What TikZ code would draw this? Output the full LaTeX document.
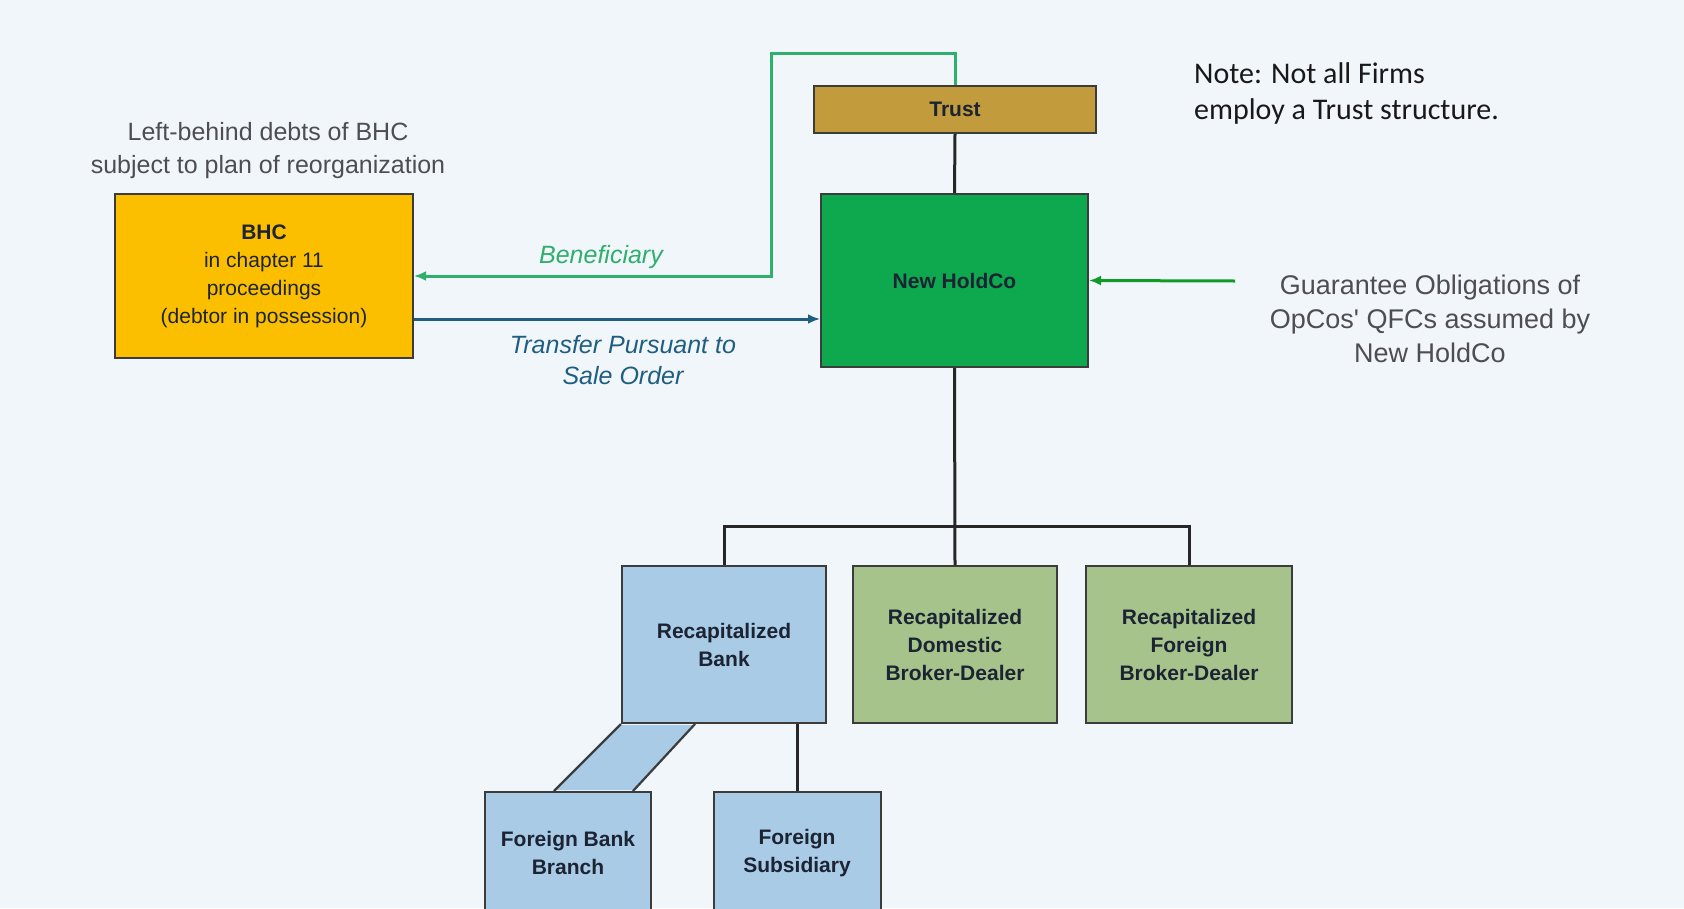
\documentclass[tikz,border=0pt]{standalone}
\usepackage{fontspec}
\setmainfont{Liberation Sans}
\newfontfamily\notefont{Carlito}
\usetikzlibrary{arrows.meta}
\definecolor{bgc}{HTML}{F0F6FA}
\definecolor{bhcfill}{HTML}{FBBF00}
\definecolor{trustfill}{HTML}{C29B3C}
\definecolor{holdfill}{HTML}{0EA84E}
\definecolor{bankfill}{HTML}{A9CBE6}
\definecolor{bdfill}{HTML}{A6C38B}
\definecolor{edgec}{HTML}{3C3C3C}
\definecolor{boxtext}{HTML}{1C2433}
\definecolor{benef}{HTML}{2FAE6C}
\definecolor{transf}{HTML}{1F5E80}
\definecolor{guarc}{HTML}{109A28}
\definecolor{graytext}{HTML}{4E4E52}
\tikzset{
  entity/.style={draw=edgec, line width=2pt, inner sep=0pt, align=center,
    text=boxtext, font=\bfseries\fontsize{21}{28}\selectfont},
  link/.style={draw=black!85, line width=3pt},
  tip/.style={-{Latex[length=12pt,width=10pt]}},
}
\begin{document}
\begin{tikzpicture}[x=1pt,y=-1pt]
\useasboundingbox (0,0) rectangle (1684,908);
\clip (0,0) rectangle (1684,908);
\fill[bgc] (0,0) rectangle (1684,908);

% nodes
\node[entity, fill=bhcfill, minimum width=298pt, minimum height=164pt] (bhc) at (264,276)
  {BHC\\ \mdseries in chapter 11\\ \mdseries proceedings\\ \mdseries (debtor in possession)};
\node[entity, fill=trustfill, minimum width=282pt, minimum height=47pt] (trust) at (955,109.5) {Trust};
\node[entity, fill=holdfill, minimum width=267pt, minimum height=173pt] (holdco) at (954.5,280.5) {New HoldCo};
\node[entity, fill=bankfill, minimum width=204pt, minimum height=157pt] (bank) at (724,644.5) {Recapitalized\\Bank};
\node[entity, fill=bdfill, minimum width=204pt, minimum height=157pt] (dom) at (955,644.5) {Recapitalized\\Domestic\\Broker-Dealer};
\node[entity, fill=bdfill, minimum width=206pt, minimum height=157pt] (fbd) at (1189,644.5) {Recapitalized\\Foreign\\Broker-Dealer};
\node[entity, fill=bankfill, minimum width=166pt, minimum height=122pt] (branch) at (568,853) {Foreign Bank\\Branch};
\node[entity, fill=bankfill, minimum width=167pt, minimum height=122pt] (sub) at (797,853) {Foreign\\Subsidiary};

% texts
\node[align=center, text=graytext, font=\fontsize{25}{33}\selectfont] (left) at (268,151)
  {Left-behind debts of BHC\\subject to plan of reorganization};
\node[text=benef, font=\itshape\fontsize{25}{31}\selectfont] (benlab) at (601,257) {Beneficiary};
\node[align=center, text=transf, font=\itshape\fontsize{25}{31}\selectfont] (trlab) at (623,360)
  {Transfer Pursuant to\\Sale Order};
\node[anchor=north west, align=left, text=black!90, inner sep=0pt, font=\notefont\fontsize{30}{36}\selectfont] (note) at (1194,62)
  {Note: Not all Firms\\employ a Trust structure.};
\node[align=center, text=graytext, font=\fontsize{27}{34}\selectfont] (guar) at (1430,319)
  {Guarantee Obligations of\\OpCos\textquotesingle{} QFCs assumed by\\New HoldCo};

% coordinates
\coordinate (gcorner) at (771,53);
\coordinate (ty) at (0,319);
\coordinate (gstart) at (1235,281);
\coordinate (bus) at (955,526);

% connectors
\draw[link] (trust.south) -- (holdco.north);
\draw[draw=benef, line width=3pt, tip] (trust.north) |- (gcorner) |- (bhc.east);
\draw[draw=transf, line width=3pt, tip] (bhc.east |- ty) -- (holdco.west |- ty);
\draw[draw=guarc, line width=3pt, tip] (gstart) -- (holdco.east);
\draw[link] (holdco.south) -- (dom.north);
\draw[link] (bank.north) |- (bus) -| (fbd.north);
\draw[link] (sub.north) -- (sub.north |- bank.south);

% branch connector (parallelogram)
\coordinate (pa) at (bank.south west);
\coordinate (pb) at ([xshift=74pt]bank.south west);
\coordinate (pc) at ([xshift=149pt]branch.north west);
\coordinate (pd) at ([xshift=70pt]branch.north west);
\fill[bankfill] ([yshift=-1pt]pa) -- ([yshift=-1pt]pb) -- ([yshift=1pt]pc) -- ([yshift=1pt]pd) -- cycle;
\draw[edgec, line width=2.2pt] (pa) -- (pd);
\draw[edgec, line width=2.2pt] (pb) -- (pc);
\end{tikzpicture}
\end{document}
